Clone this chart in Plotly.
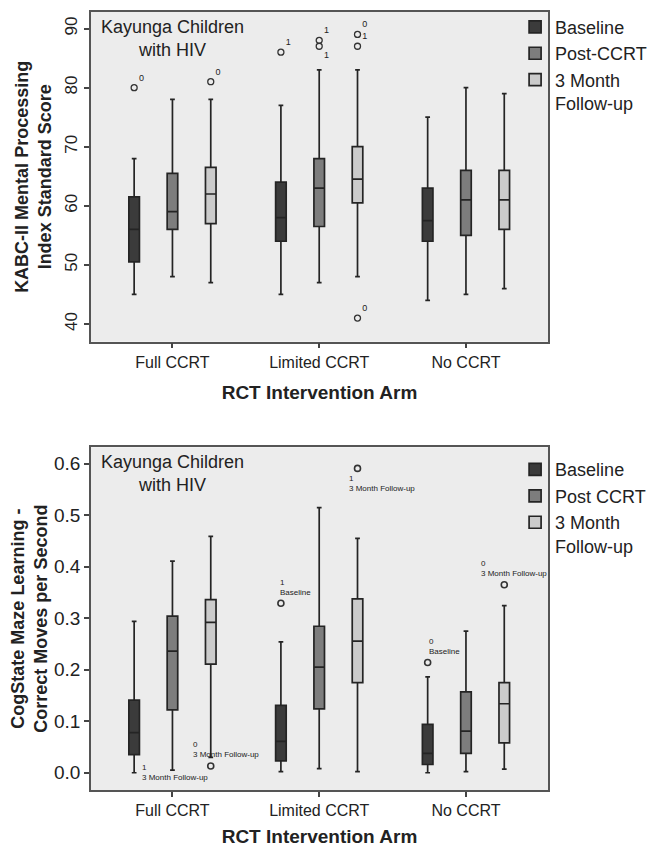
import plotly.graph_objects as go

# ---------------- data ----------------
categories = ["Full CCRT", "Limited CCRT", "No CCRT"]
series_top = ["Baseline", "Post-CCRT", "3 Month<br>Follow-up"]
series_bot = ["Baseline", "Post CCRT", "3 Month<br>Follow-up"]

# KABC-II MPI (top panel) : per series, values per category
kabc_lowerfence = [[45, 45, 44], [48, 47, 45], [47, 48, 46]]
kabc_q1 = [[50.5, 54, 54], [56, 56.5, 55], [57, 60.5, 56]]
kabc_median = [[56, 58, 57.5], [59, 63, 61], [62, 64.5, 61]]
kabc_q3 = [[61.5, 64, 63], [65.5, 68, 66], [66.5, 70, 66]]
kabc_upperfence = [[68, 77, 75], [78, 83, 80], [78, 83, 79]]
# outliers: category index, series index, value, label
kabc_out_cat = [0, 0, 1, 1, 1, 1, 1, 1]
kabc_out_ser = [0, 2, 0, 1, 1, 2, 2, 2]
kabc_out_val = [80, 81, 86, 88, 87, 89, 87, 41]
kabc_out_lab = ["0", "0", "1", "1", "1", "0", "1", "0"]

# CogState maze (bottom panel)
maze_lowerfence = [[0.0, 0.002, 0.0], [0.005, 0.008, 0.002], [0.03, 0.002, 0.007]]
maze_q1 = [[0.035, 0.023, 0.016], [0.122, 0.124, 0.0375], [0.211, 0.175, 0.058]]
maze_median = [[0.078, 0.061, 0.0375], [0.236, 0.205, 0.081], [0.292, 0.2555, 0.134]]
maze_q3 = [[0.141, 0.131, 0.094], [0.304, 0.2845, 0.157], [0.336, 0.3375, 0.175]]
maze_upperfence = [[0.294, 0.254, 0.186], [0.411, 0.515, 0.275], [0.459, 0.455, 0.3245]]
maze_out_cat = [0, 1, 1, 2, 2]
maze_out_ser = [2, 0, 2, 0, 2]
maze_out_val = [0.013, 0.329, 0.591, 0.214, 0.365]
maze_out_lab = ["0<br>3 Month Follow-up", "1<br>Baseline", "1<br>3 Month Follow-up",
                "0<br>Baseline", "0<br>3 Month Follow-up"]
# label without visible circle (case 1, 3 Month Follow-up) beside the Full CCRT baseline whisker
maze_note_cat = [0]
maze_note_ser = [0]
maze_note_val = [0.0]
maze_note_lab = ["1<br>3 Month Follow-up"]

# ---------------- style ----------------
fills = ["#3b3b3b", "#7d7d7d", "#cbcbcb"]
offsets = [-0.261, 0.0, 0.261]
REG = "Liberation Sans, Arial, sans-serif"
INK = "#222222"

fig = go.Figure()

def add_panel(xa, ya, legend, names, lf, q1, med, q3, uf):
    for s in range(3):
        fig.add_trace(go.Box(
            x=[i + offsets[s] for i in range(len(categories))],
            lowerfence=lf[s], q1=q1[s], median=med[s], q3=q3[s], upperfence=uf[s],
            name=names[s], legend=legend, xaxis=xa, yaxis=ya,
            fillcolor=fills[s], line=dict(color="#242424", width=1.7),
            width=0.072, whiskerwidth=0.45, boxpoints=False, hoverinfo="skip",
        ))

add_panel("x", "y", "legend", series_top, kabc_lowerfence, kabc_q1, kabc_median, kabc_q3, kabc_upperfence)
add_panel("x2", "y2", "legend2", series_bot, maze_lowerfence, maze_q1, maze_median, maze_q3, maze_upperfence)

# top outliers
tpos = ["top right"] * len(kabc_out_val)
tpos[4] = "bottom right"
fig.add_trace(go.Scatter(
    x=[c + offsets[s] for c, s in zip(kabc_out_cat, kabc_out_ser)], y=kabc_out_val,
    mode="markers+text", text=kabc_out_lab, textposition=tpos,
    textfont=dict(family=REG, size=9, color=INK),
    marker=dict(symbol="circle-open", size=6, color="#333333", line=dict(width=1.3)),
    showlegend=False, hoverinfo="skip", xaxis="x", yaxis="y",
))
# bottom outliers
fig.add_trace(go.Scatter(
    x=[c + offsets[s] for c, s in zip(maze_out_cat, maze_out_ser)], y=maze_out_val,
    mode="markers", marker=dict(symbol="circle-open", size=6, color="#333333", line=dict(width=1.6)),
    showlegend=False, hoverinfo="skip", xaxis="x2", yaxis="y2",
))
lab_xshift = [-20, -3, -11, -1, -25]
lab_yshift = [5, 4, -4, 5, 5]
lab_yanchor = ["bottom", "bottom", "top", "bottom", "bottom"]
for c, s, v, t, dx, dy, ya in zip(maze_out_cat, maze_out_ser, maze_out_val, maze_out_lab,
                                   lab_xshift, lab_yshift, lab_yanchor):
    fig.add_annotation(x=c + offsets[s], y=v, xref="x2", yref="y2", text=t, showarrow=False,
                       xanchor="left", yanchor=ya, align="left", xshift=dx, yshift=dy,
                       font=dict(family=REG, size=8, color=INK))
for c, s, v, t in zip(maze_note_cat, maze_note_ser, maze_note_val, maze_note_lab):
    fig.add_annotation(x=c + offsets[s], y=v, xref="x2", yref="y2", text=t, showarrow=False,
                       xanchor="left", yanchor="middle", align="left", xshift=6, yshift=0,
                       font=dict(family=REG, size=8, color=INK))

# panel captions
for xr, yr in (("x", "y domain"), ("x2", "y2 domain")):
    fig.add_annotation(x=0, y=1, xref=xr, yref=yr, text="Kayunga Children<br>with HIV",
                       showarrow=False, xanchor="center", yanchor="top", yshift=-3,
                       font=dict(family=REG, size=18, color=INK))

axis_common = dict(showline=True, mirror=True, linecolor="#555555", linewidth=1.5,
                   showgrid=False, zeroline=False, ticks="outside", ticklen=5,
                   tickcolor="#444444", tickwidth=1.5)
xcommon = dict(axis_common, range=[-0.555, 2.559], tickvals=list(range(len(categories))),
               ticktext=categories, tickfont=dict(family=REG, size=16, color=INK))
xtitle_font = dict(family=REG, size=19, color=INK)

# the page body has an 8px default margin, so the figure is 8px smaller than the window
fig.update_layout(
    width=647, height=846,
    margin=dict(l=83, r=107, t=1, b=64),
    paper_bgcolor="white", plot_bgcolor="#ececec",
    showlegend=True,
    xaxis=dict(xcommon, domain=[0, 1], anchor="y",
               title=dict(text="<b>RCT Intervention Arm</b>", font=xtitle_font, standoff=16)),
    yaxis=dict(axis_common, domain=[0.5762, 1.0], anchor="x", range=[37, 92.8],
               tickvals=[40, 50, 60, 70, 80, 90], tickangle=-90,
               tickfont=dict(family=REG, size=17, color=INK),
               title=dict(text="<b>KABC-II Mental Processing<br>Index Standard Score</b>",
                          font=dict(family=REG, size=18, color=INK), standoff=6)),
    xaxis2=dict(xcommon, domain=[0, 1], anchor="y2",
                title=dict(text="<b>RCT Intervention Arm</b>", font=xtitle_font, standoff=12)),
    yaxis2=dict(axis_common, domain=[0.0, 0.4405], anchor="x2", range=[-0.0335, 0.632],
                tickvals=[0, 0.1, 0.2, 0.3, 0.4, 0.5, 0.6], tickformat=".1f",
                tickfont=dict(family=REG, size=19, color=INK),
                title=dict(text="<b>CogState Maze Learning -<br>Correct Moves per Second</b>",
                           font=dict(family=REG, size=18, color=INK), standoff=6)),
    legend=dict(x=0.928, y=1.0043, xanchor="left", yanchor="top", bgcolor="rgba(0,0,0,0)",
                font=dict(family=REG, size=18, color=INK), valign="top", itemclick=False,
                tracegroupgap=0),
    legend2=dict(x=0.928, y=0.4354, xanchor="left", yanchor="top", bgcolor="rgba(0,0,0,0)",
                 font=dict(family=REG, size=18, color=INK), valign="top", itemclick=False,
                 tracegroupgap=0),
)

fig.write_html("out.html")
